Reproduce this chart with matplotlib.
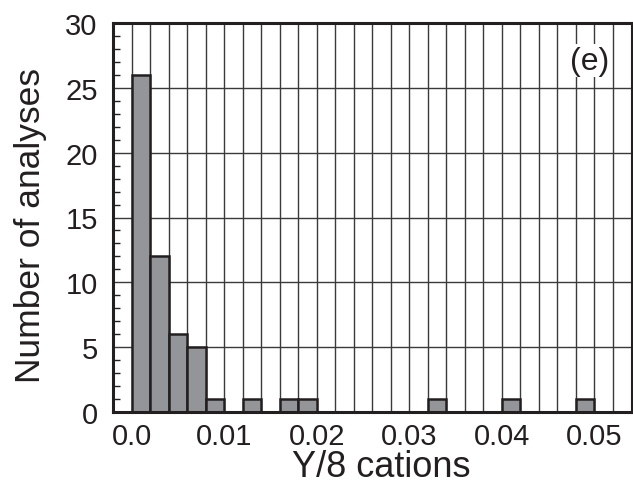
import numpy as np
import matplotlib
matplotlib.use("Agg")
import matplotlib.pyplot as plt
from matplotlib.ticker import MultipleLocator

plt.rcParams['font.family'] = ['Liberation Sans', 'DejaVu Sans']

# Histogram of Y per 8 cations, bin width 0.002
bin_left = [0.000, 0.002, 0.004, 0.006, 0.008, 0.012, 0.016, 0.018, 0.032, 0.040, 0.048]
counts = [26, 12, 6, 5, 1, 1, 1, 1, 1, 1, 1]
bin_width = 0.002
x_ticks = [0.0, 0.01, 0.02, 0.03, 0.04, 0.05]
x_tick_labels = ["0.0", "0.01", "0.02", "0.03", "0.04", "0.05"]
y_ticks = [0, 5, 10, 15, 20, 25, 30]

fig = plt.figure(figsize=(6.33, 4.85), dpi=100)
ax = fig.add_axes([113/633, 1 - 413/485, (631.5-113)/633, (413-24)/485])

ax.set_xlim(-0.002, 0.054)
ax.set_ylim(0, 30)

# grid: vertical every bin, horizontal every 5
ax.xaxis.set_minor_locator(MultipleLocator(0.002))
ax.yaxis.set_minor_locator(MultipleLocator(1))
ax.set_xticks(x_ticks)
ax.set_xticklabels(x_tick_labels)
ax.set_yticks(y_ticks)
ax.grid(True, which='minor', axis='x', color='#3a3a3a', linewidth=1.0, zorder=0)
ax.grid(True, which='major', axis='x', color='#3a3a3a', linewidth=1.0, zorder=0)
ax.grid(True, which='major', axis='y', color='#3a3a3a', linewidth=1.0, zorder=0)
ax.set_axisbelow(True)

ax.bar(bin_left, counts, width=bin_width, align='edge', color='#939598',
       edgecolor='#231f20', linewidth=1.8, zorder=3)

for s in ax.spines.values():
    s.set_linewidth(2.2)
    s.set_color('#231f20')
    s.set_zorder(5)

ax.tick_params(axis='both', which='both', direction='in', colors='#231f20',
               labelcolor='#231f20', labelsize=21)
ax.tick_params(axis='y', which='minor', length=5, width=1.0, left=True, right=False)
ax.tick_params(axis='y', which='major', length=0, pad=11)
ax.tick_params(axis='x', which='both', length=0, pad=7)

ax.set_xlabel("Y/8 cations", fontsize=26, color='#231f20')
ax.set_ylabel("Number of analyses", fontsize=25.5, color='#231f20')
ax.xaxis.set_label_coords(0.517, -0.095)
ax.yaxis.set_label_coords(-0.127, 0.483)

ax.text(0.0495, 27.1, "(e)", fontsize=23, color='#231f20', ha='center', va='center',
        zorder=4, bbox=dict(facecolor='white', edgecolor='none', pad=1.0))

fig.savefig("out.png", dpi=100)
